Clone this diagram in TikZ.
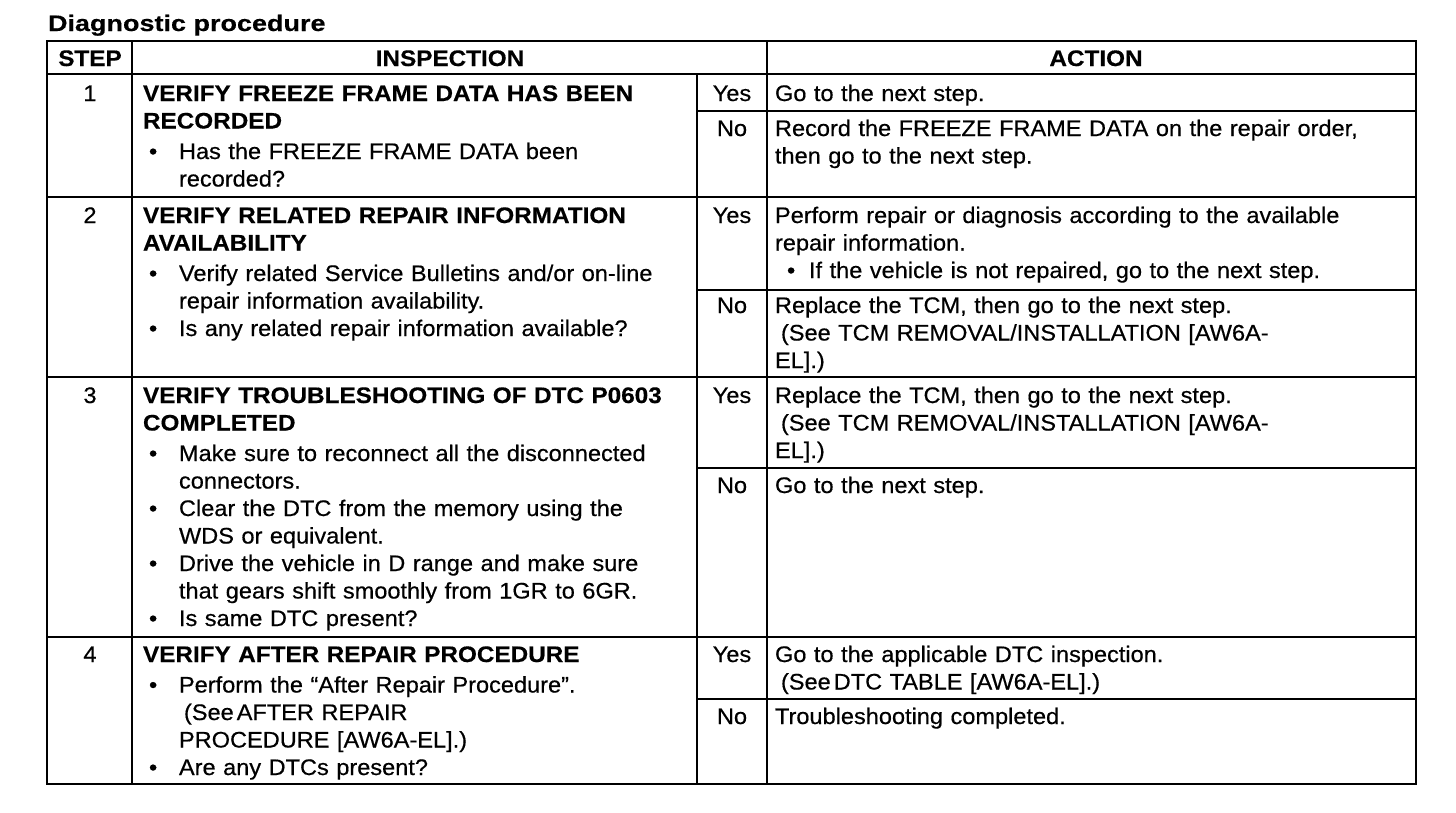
\documentclass[tikz,border=0pt]{standalone}
\usepackage{fontspec}
\setmainfont{Liberation Sans}[FakeStretch=1.047, FakeBold=0.5]
\newfontfamily\hbfam{Liberation Sans Bold}[FakeStretch=1.08, FakeBold=0.4]
\newfontfamily\ttlfam{Liberation Sans Bold}[FakeStretch=1.2, FakeBold=0.4]
\newcommand\hb[1]{{\hbfam #1}}
\newcommand\myb{\makebox[36pt][l]{\hspace{6pt}•}}
\newcommand\myi{\hspace*{36pt}}
\begin{document}
\begin{tikzpicture}[x=1pt,y=-1pt,
  every node/.style={inner sep=0pt, outer sep=0pt},
  tx/.style={anchor=base west, align=left, text width=640pt, font=\fontsize{22.5}{27.5}\selectfont},
  cx/.style={anchor=base, font=\fontsize{22.5}{27.5}\selectfont},
  hd/.style={anchor=base, font=\fontsize{22.5}{27.5}\selectfont\hbfam},
  outerline/.style={line width=2.6pt},
  ruleline/.style={line width=2pt},
  thinline/.style={line width=1.2pt}]
\useasboundingbox (0,0) rectangle (1456,812);
% title
\node[anchor=base west, font=\fontsize{22.5}{27.5}\selectfont\ttlfam] (title) at (48,31) {Diagnostic procedure};
% grid
\draw[outerline] (47,41) rectangle (1416,784);
\draw[ruleline] (47,74) -- (1416,74);
\draw[ruleline] (47,197) -- (1416,197);
\draw[ruleline] (47,377) -- (1416,377);
\draw[ruleline] (47,637) -- (1416,637);
\draw[thinline] (132,41) -- (132,784);
\draw[ruleline] (767,41) -- (767,784);
\draw[ruleline] (697,74) -- (697,784);
\draw[ruleline] (697,111) -- (1416,111);
\draw[ruleline] (697,290) -- (1416,290);
\draw[ruleline] (697,468) -- (1416,468);
\draw[ruleline] (697,699) -- (1416,699);
% header
\node[hd] (hstep) at (90,66) {STEP};
\node[hd] (hinsp) at (450,66) {INSPECTION};
\node[hd] (hact) at (1096,66) {ACTION};
% step numbers
\node[cx] (s1) at (90,101) {1};
\node[cx] (s2) at (90,223) {2};
\node[cx] (s3) at (90,403) {3};
\node[cx] (s4) at (90,662) {4};
% inspection
\node[tx] (i1) at (143,101) {\hb{VERIFY FREEZE FRAME DATA HAS BEEN}\\
\hb{RECORDED}\\[3pt]
\myb Has the FREEZE FRAME DATA been\\
\myi recorded?};
\node[tx] (i2) at (143,223) {\hb{VERIFY RELATED REPAIR INFORMATION}\\
\hb{AVAILABILITY}\\[3pt]
\myb Verify related Service Bulletins and/or on-line\\
\myi repair information availability.\\
\myb Is any related repair information available?};
\node[tx] (i3) at (143,403) {\hb{VERIFY TROUBLESHOOTING OF DTC P0603}\\
\hb{COMPLETED}\\[3pt]
\myb Make sure to reconnect all the disconnected\\
\myi connectors.\\
\myb Clear the DTC from the memory using the\\
\myi WDS or equivalent.\\
\myb Drive the vehicle in D range and make sure\\
\myi that gears shift smoothly from 1GR to 6GR.\\
\myb Is same DTC present?};
\node[tx] (i4) at (143,662) {\hb{VERIFY AFTER REPAIR PROCEDURE}\\[3pt]
\myb Perform the “After Repair Procedure”.\\
\myi\hspace*{5pt}(See\hspace{3pt}AFTER REPAIR\\
\myi PROCEDURE [AW6A-EL].)\\
\myb Are any DTCs present?};
% yes / no
\node[cx] (y1) at (732,101) {Yes};
\node[cx] (n1) at (732,136) {No};
\node[cx] (y2) at (732,223) {Yes};
\node[cx] (n2) at (732,313) {No};
\node[cx] (y3) at (732,403) {Yes};
\node[cx] (n3) at (732,493) {No};
\node[cx] (y4) at (732,662) {Yes};
\node[cx] (n4) at (732,724) {No};
% actions
\node[tx] (ay1) at (775,101) {Go to the next step.};
\node[tx] (an1) at (775,136) {Record the FREEZE FRAME DATA on the repair order,\\
then go to the next step.};
\node[tx] (ay2) at (775,223) {Perform repair or diagnosis according to the available\\
repair information.\\
\makebox[34pt][l]{\hspace{12pt}•}If the vehicle is not repaired, go to the next step.};
\node[tx] (an2) at (775,313) {Replace the TCM, then go to the next step.\\
\hspace*{6pt}(See TCM REMOVAL/INSTALLATION [AW6A-\\
EL].)};
\node[tx] (ay3) at (775,403) {Replace the TCM, then go to the next step.\\
\hspace*{6pt}(See TCM REMOVAL/INSTALLATION [AW6A-\\
EL].)};
\node[tx] (an3) at (775,493) {Go to the next step.};
\node[tx] (ay4) at (775,662) {Go to the applicable DTC inspection.\\
\hspace*{6pt}(See\hspace{3pt}DTC TABLE [AW6A-EL].)};
\node[tx] (an4) at (775,724) {Troubleshooting completed.};
\end{tikzpicture}
\end{document}
